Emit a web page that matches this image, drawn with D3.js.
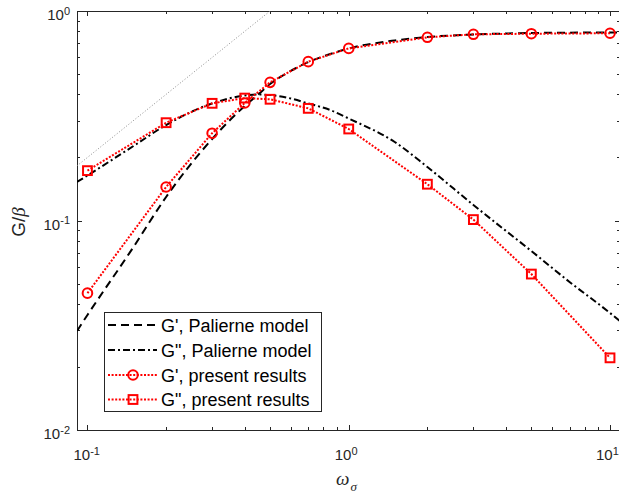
<!DOCTYPE html>
<html>
<head>
<meta charset="utf-8">
<script src="https://cdn.jsdelivr.net/npm/d3@7"></script>
<style>
  body { margin: 0; background: #fff; }
  svg { display: block; }
</style>
</head>
<body>
<script>
// Frequencies of the computed points
const omega = [0.1, 0.2, 0.3, 0.4, 0.5, 0.7, 1, 2, 3, 5, 10];
// Storage modulus G'/beta, present results
const gStorageResults = [0.045, 0.1445, 0.261, 0.364, 0.4566, 0.573, 0.663, 0.749, 0.774, 0.779, 0.783];
// Loss modulus G''/beta, present results
const gLossResults = [0.173, 0.293, 0.3625, 0.384, 0.379, 0.343, 0.2734, 0.149, 0.101, 0.0555, 0.0221];

// Palierne model curves, sampled
const modelOmega = [0.0912, 0.1, 0.15, 0.2, 0.3, 0.4, 0.45, 0.5, 0.6, 0.7, 0.85, 1, 1.5, 2, 3, 5, 7, 10, 10.92];
const gStorageModel = [0.0297, 0.0354, 0.0747, 0.1295, 0.2449, 0.3520, 0.3994, 0.4482, 0.5172, 0.5707, 0.6234, 0.6623, 0.7233, 0.7514, 0.7722, 0.7852, 0.7880, 0.7895, 0.7895];
const gLossModel = [0.1527, 0.1640, 0.2267, 0.2856, 0.3619, 0.3951, 0.3994, 0.3972, 0.3823, 0.3619, 0.3368, 0.3068, 0.2370, 0.1800, 0.1186, 0.0715, 0.0509, 0.0362, 0.0331];

// Low-frequency reference line G = 2*omega
const refOmega = [0.0912, 0.5];
const refG = [0.1824, 1.0];

// Axis ticks
const xMajor = [0.1, 1, 10];
const xMajorExp = ["-1", "0", "1"];
const yMajor = [0.01, 0.1, 1];
const yMajorExp = ["-2", "-1", "0"];

const legendLabels = ["G', Palierne model", "G\", Palierne model", "G', present results", "G\", present results"];

const W = 619, H = 497;
const L = 77, T = 11, R = 620, B = 430;
const axisColor = "#262626";
const font = "'Liberation Sans', Arial, Helvetica, sans-serif";
const serif = "'Liberation Serif', 'Times New Roman', serif";

const x = d3.scaleLog().domain([0.0912, 10.92]).range([L, R]);
const y = d3.scaleLog().domain([0.01, 1]).range([B, T]);

const minorOf = (lo, hi) => {
  const out = [];
  for (let p = -3; p <= 2; p++) for (let k = 2; k <= 9; k++) {
    const v = k * Math.pow(10, p);
    if (v > lo && v < hi) out.push(v);
  }
  return out;
};
const xMinor = minorOf(x.domain()[0], x.domain()[1]);
const yMinor = minorOf(0.01, 1);

const svg = d3.select("body").append("svg").attr("width", W).attr("height", H);

svg.append("defs").append("clipPath").attr("id", "plotClip")
  .append("rect").attr("x", L).attr("y", T).attr("width", R - L).attr("height", B - T);

// Ticks (pointing inward on all four sides)
const g = svg.append("g").attr("stroke", axisColor).attr("stroke-width", 1);
function ticksX(vals, len) {
  vals.forEach(v => {
    const px = Math.round(x(v)) + 0.5;
    g.append("line").attr("x1", px).attr("x2", px).attr("y1", B).attr("y2", B - len);
    g.append("line").attr("x1", px).attr("x2", px).attr("y1", T).attr("y2", T + len);
  });
}
function ticksY(vals, len) {
  vals.forEach(v => {
    const py = Math.round(y(v)) + 0.5;
    g.append("line").attr("y1", py).attr("y2", py).attr("x1", L).attr("x2", L + len);
    g.append("line").attr("y1", py).attr("y2", py).attr("x1", R).attr("x2", R - len);
  });
}
ticksX(xMajor, 5); ticksX(xMinor, 3);
ticksY(yMajor, 5); ticksY(yMinor, 3);

// Frame
svg.append("rect").attr("x", L + 0.5).attr("y", T + 0.5).attr("width", R - L).attr("height", B - T)
  .attr("fill", "none").attr("stroke", axisColor).attr("stroke-width", 1);

// Tick labels with superscript exponents
function powerLabel(sel, exp) {
  sel.append("tspan").text("10");
  sel.append("tspan").attr("dy", "-0.5em").attr("font-size", 11).text(exp);
}
xMajor.forEach((v, i) => {
  const t = svg.append("text").attr("x", x(v) - 14).attr("y", 460)
    .attr("font-family", font).attr("font-size", 15).attr("fill", axisColor);
  powerLabel(t, xMajorExp[i]);
});
yMajor.forEach((v, i) => {
  const t = svg.append("text").attr("x", 70).attr("y", y(v) + 9)
    .attr("font-family", font).attr("font-size", 15).attr("fill", axisColor).attr("text-anchor", "end");
  powerLabel(t, yMajorExp[i]);
});

// Axis titles
const xt = svg.append("text").attr("x", 336).attr("y", 485)
  .attr("font-family", serif).attr("font-size", 19).attr("fill", axisColor);
xt.append("tspan").attr("font-style", "italic").text("ω");
xt.append("tspan").attr("font-style", "italic").attr("font-size", 13).attr("dy", 6).attr("dx", 1).text("σ");

const yt = svg.append("text").attr("transform", "translate(25,222) rotate(-90)")
  .attr("text-anchor", "middle").attr("font-family", font).attr("font-size", 19).attr("fill", axisColor);
yt.append("tspan").text("G/");
yt.append("tspan").attr("font-family", serif).attr("font-style", "italic").text("β");

// Curves
const plot = svg.append("g").attr("clip-path", "url(#plotClip)");
const line = d3.line().x(d => x(d[0])).y(d => y(d[1]));
const smooth = d3.line().x(d => x(d[0])).y(d => y(d[1])).curve(d3.curveMonotoneX);
const zip = (a, b) => a.map((v, i) => [v, b[i]]);

plot.append("path").attr("d", line(zip(refOmega, refG)))
  .attr("fill", "none").attr("stroke", "#8c8c8c").attr("stroke-width", 1).attr("stroke-dasharray", "1,2");

const styles = {
  storageModel: { stroke: "#000", width: 2, dash: "8,5" },
  lossModel: { stroke: "#000", width: 2, dash: "7,3,2,3" },
  results: { stroke: "#ff0000", width: 2, dash: "2,1.6" }
};

plot.append("path").attr("d", smooth(zip(modelOmega, gStorageModel)))
  .attr("fill", "none").attr("stroke", styles.storageModel.stroke)
  .attr("stroke-width", styles.storageModel.width).attr("stroke-dasharray", styles.storageModel.dash);
plot.append("path").attr("d", smooth(zip(modelOmega, gLossModel)))
  .attr("fill", "none").attr("stroke", styles.lossModel.stroke)
  .attr("stroke-width", styles.lossModel.width).attr("stroke-dasharray", styles.lossModel.dash);

plot.append("path").attr("d", line(zip(omega, gStorageResults)))
  .attr("fill", "none").attr("stroke", styles.results.stroke)
  .attr("stroke-width", styles.results.width).attr("stroke-dasharray", styles.results.dash);
plot.append("path").attr("d", line(zip(omega, gLossResults)))
  .attr("fill", "none").attr("stroke", styles.results.stroke)
  .attr("stroke-width", styles.results.width).attr("stroke-dasharray", styles.results.dash);

function circleMarker(sel, cx, cy) {
  sel.append("circle").attr("cx", cx).attr("cy", cy).attr("r", 4.8)
    .attr("fill", "none").attr("stroke", "#ff0000").attr("stroke-width", 2);
}
function squareMarker(sel, cx, cy) {
  sel.append("rect").attr("x", cx - 4.4).attr("y", cy - 4.4).attr("width", 8.8).attr("height", 8.8)
    .attr("fill", "none").attr("stroke", "#ff0000").attr("stroke-width", 2);
}
const marks = svg.append("g");
omega.forEach((w, i) => circleMarker(marks, x(w), y(gStorageResults[i])));
omega.forEach((w, i) => squareMarker(marks, x(w), y(gLossResults[i])));

// Legend
const lg = svg.append("g");
lg.append("rect").attr("x", 104.5).attr("y", 312.5).attr("width", 217).attr("height", 99)
  .attr("fill", "#fff").attr("stroke", axisColor).attr("stroke-width", 1);
const rowY = [325, 350, 375, 399.5];
const legendStyles = [styles.storageModel, styles.lossModel, styles.results, styles.results];
legendLabels.forEach((lab, i) => {
  const st = legendStyles[i];
  lg.append("line").attr("x1", 108).attr("x2", 157).attr("y1", rowY[i]).attr("y2", rowY[i])
    .attr("stroke", st.stroke).attr("stroke-width", st.width).attr("stroke-dasharray", st.dash);
  if (i === 2) circleMarker(lg, 133, rowY[i]);
  if (i === 3) squareMarker(lg, 133, rowY[i]);
  lg.append("text").attr("x", 161).attr("y", rowY[i] + 6.5)
    .attr("font-family", font).attr("font-size", 18).attr("fill", "#000").text(lab);
});
</script>
</body>
</html>
